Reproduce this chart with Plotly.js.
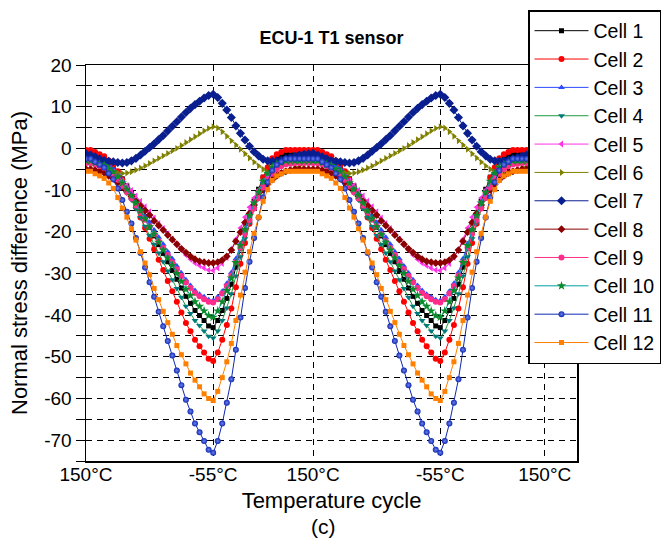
<!DOCTYPE html>
<html>
<head>
<meta charset="utf-8">
<script src="https://cdn.plot.ly/plotly-3.0.1.min.js"></script>
<style>html,body{margin:0;padding:0;background:#fff;}</style>
</head>
<body>
<div id="chart" style="width:665px;height:542px;"></div>
<script>
// sample index along the temperature cycle (time axis)
const sampleIndex = [0,1,2,3,4,5,6,7,8,9,10,11,12,13,14,15,16,17,18,19,20,21,22,23,24,25,26,27,28,29,30,31,32,33,34,35,36,37,38,39,40,41,42,43,44,45,46,47,48,49,50,51,52,53,54,55,56,57,58,59,60,61,62,63,64,65,66,67,68,69,70,71,72,73,74,75,76,77,78,79,80,81,82,83,84,85,86,87,88,89,90,91,92,93,94,95,96,97,98,99,100,101,102,103,104];

const tempTickPositions = [0, 28, 50, 78, 101];
const tempTickLabels = ['150°C', '-55°C', '150°C', '-55°C', '150°C'];

const stressTickValues = [-75,-70,-65,-60,-55,-50,-45,-40,-35,-30,-25,-20,-15,-10,-5,0,5,10,15,20];
const stressTickLabels = ['','-70','','-60','','-50','','-40','','-30','','-20','','-10','','0','','10','','20'];

const cellNames = ['Cell 1','Cell 2','Cell 3','Cell 4','Cell 5','Cell 6','Cell 7','Cell 8','Cell 9','Cell 10','Cell 11','Cell 12'];

const cell1 = [
-1.5,-1.5,-1.9,-2.3,-2.7,-3.6,-4.4,-5.7,-7.3,-9.0,-10.6,-12.7,-14.8,-16.9,-18.9,-21.0,-23.1,-25.2,-27.2,-29.3,-31.4,-33.5,-35.5,-37.2,-38.9,-40.1,-41.3,-42.6,-43.0,
-41.3,-38.9,-36.0,-32.6,-28.5,-23.9,-19.8,-16.0,-12.7,-9.8,-6.9,-4.8,-3.2,-2.3,-1.9,-1.5,-1.5,-1.5,-1.5,-1.5,-1.5,-1.5,
-1.5,-1.9,-2.3,-2.7,-3.6,-4.4,-5.7,-7.3,-9.0,-10.6,-12.7,-14.8,-16.9,-18.9,-21.0,-23.1,-25.2,-27.2,-29.3,-31.4,-33.5,-35.5,-37.2,-38.9,-40.1,-41.3,-42.6,-43.0,
-41.3,-38.9,-36.0,-32.6,-28.5,-23.9,-19.8,-16.0,-12.7,-9.8,-6.9,-4.8,-3.2,-2.3,-1.9,-1.5,-1.5,-1.5,-1.5,-1.5,-1.5,-1.5,
-1.5,-1.5,-1.9,-2.3];

const cell2 = [
-0.4,-0.4,-0.9,-1.4,-1.9,-2.9,-3.9,-5.5,-7.5,-9.5,-11.5,-14.1,-16.6,-19.1,-21.7,-24.2,-26.7,-29.2,-31.8,-34.3,-36.8,-39.4,-41.9,-43.9,-45.9,-47.5,-49.0,-50.5,-51.0,
-49.0,-45.9,-42.4,-38.4,-33.3,-27.7,-22.7,-18.1,-14.1,-10.5,-7.0,-4.5,-2.4,-1.4,-0.9,-0.4,-0.4,-0.4,-0.4,-0.4,-0.4,-0.4,
-0.4,-0.9,-1.4,-1.9,-2.9,-3.9,-5.5,-7.5,-9.5,-11.5,-14.1,-16.6,-19.1,-21.7,-24.2,-26.7,-29.2,-31.8,-34.3,-36.8,-39.4,-41.9,-43.9,-45.9,-47.5,-49.0,-50.5,-51.0,
-49.0,-45.9,-42.4,-38.4,-33.3,-27.7,-22.7,-18.1,-14.1,-10.5,-7.0,-4.5,-2.4,-1.4,-0.9,-0.4,-0.4,-0.4,-0.4,-0.4,-0.4,-0.4,
-0.4,-0.4,-0.9,-1.4];

const cell3 = [
-2.0,-2.0,-2.3,-2.7,-3.2,-4.1,-4.9,-6.1,-7.7,-9.2,-10.8,-12.5,-14.2,-16.0,-17.7,-19.6,-21.3,-23.0,-24.8,-26.5,-28.2,-29.9,-31.5,-32.9,-34.1,-35.0,-35.6,-36.3,-36.5,
-35.6,-34.3,-32.4,-29.8,-26.5,-22.9,-19.4,-16.2,-13.2,-10.6,-8.0,-6.1,-4.6,-3.6,-2.9,-2.3,-2.2,-2.0,-2.0,-2.0,-2.0,-2.0,
-2.0,-2.3,-2.7,-3.2,-4.1,-4.9,-6.1,-7.7,-9.2,-10.8,-12.5,-14.2,-16.0,-17.7,-19.6,-21.3,-23.0,-24.8,-26.5,-28.2,-29.9,-31.5,-32.9,-34.1,-35.0,-35.6,-36.3,-36.5,
-35.6,-34.3,-32.4,-29.8,-26.5,-22.9,-19.4,-16.2,-13.2,-10.6,-8.0,-6.1,-4.6,-3.6,-2.9,-2.3,-2.2,-2.0,-2.0,-2.0,-2.0,-2.0,
-2.0,-2.0,-2.3,-2.7];

const cell4 = [
-3.0,-3.0,-3.4,-3.9,-4.3,-5.1,-6.0,-7.3,-9.0,-10.7,-12.4,-14.5,-16.6,-18.7,-20.9,-23.0,-25.1,-27.2,-29.4,-31.5,-33.6,-35.7,-37.9,-39.6,-41.3,-42.5,-43.8,-45.1,-45.5,
-43.8,-41.3,-38.3,-34.9,-30.6,-26.0,-21.7,-17.9,-14.5,-11.5,-8.5,-6.4,-4.7,-3.9,-3.4,-3.0,-3.0,-3.0,-3.0,-3.0,-3.0,-3.0,
-3.0,-3.4,-3.9,-4.3,-5.1,-6.0,-7.3,-9.0,-10.7,-12.4,-14.5,-16.6,-18.7,-20.9,-23.0,-25.1,-27.2,-29.4,-31.5,-33.6,-35.7,-37.9,-39.6,-41.3,-42.5,-43.8,-45.1,-45.5,
-43.8,-41.3,-38.3,-34.9,-30.6,-26.0,-21.7,-17.9,-14.5,-11.5,-8.5,-6.4,-4.7,-3.9,-3.4,-3.0,-3.0,-3.0,-3.0,-3.0,-3.0,-3.0,
-3.0,-3.0,-3.4,-3.9];

const cell5 = [
-3.5,-3.5,-3.8,-4.0,-4.4,-5.1,-5.7,-6.6,-7.8,-8.9,-10.1,-11.4,-12.7,-14.0,-15.2,-16.7,-18.0,-19.2,-20.5,-21.8,-23.1,-24.4,-25.6,-26.6,-27.5,-28.1,-28.7,-29.2,-29.3,
-28.7,-27.6,-26.2,-24.3,-21.8,-19.1,-16.5,-14.1,-11.9,-10.0,-8.0,-6.6,-5.4,-4.7,-4.2,-3.8,-3.6,-3.5,-3.5,-3.5,-3.5,-3.5,
-3.5,-3.8,-4.0,-4.4,-5.1,-5.7,-6.6,-7.8,-8.9,-10.1,-11.4,-12.7,-14.0,-15.2,-16.7,-18.0,-19.2,-20.5,-21.8,-23.1,-24.4,-25.6,-26.6,-27.5,-28.1,-28.7,-29.2,-29.3,
-28.7,-27.6,-26.2,-24.3,-21.8,-19.1,-16.5,-14.1,-11.9,-10.0,-8.0,-6.6,-5.4,-4.7,-4.2,-3.8,-3.6,-3.5,-3.5,-3.5,-3.5,-3.5,
-3.5,-3.5,-3.8,-4.0];

const cell6 = [
-3.3,-3.6,-4.0,-4.5,-5.0,-5.4,-5.7,-5.9,-6.0,-5.9,-5.6,-5.2,-4.7,-4.2,-3.6,-3.0,-2.4,-1.8,-1.2,-0.6,0.0,0.7,1.4,2.1,2.8,3.5,4.2,4.8,5.2,
4.9,4.0,2.9,1.8,0.8,-0.2,-1.3,-2.3,-3.3,-4.2,-5.0,-5.7,-6.1,-6.2,-6.0,-5.6,-5.1,-4.6,-4.1,-3.7,-3.4,-3.3,
-3.6,-4.0,-4.5,-5.0,-5.4,-5.7,-5.9,-6.0,-5.9,-5.6,-5.2,-4.7,-4.2,-3.6,-3.0,-2.4,-1.8,-1.2,-0.6,0.0,0.7,1.4,2.1,2.8,3.5,4.2,4.8,5.2,
4.9,4.0,2.9,1.8,0.8,-0.2,-1.3,-2.3,-3.3,-4.2,-5.0,-5.7,-6.1,-6.2,-6.0,-5.6,-5.1,-4.6,-4.1,-3.7,-3.4,-3.3,
-3.3,-3.6,-4.0,-4.5];

const cell7 = [
-1.3,-1.6,-2.0,-2.5,-2.9,-3.1,-3.2,-3.4,-3.5,-3.4,-3.0,-2.4,-1.6,-0.7,0.2,1.1,2.1,3.1,4.2,5.3,6.4,7.5,8.6,9.6,10.5,11.3,12.1,12.7,13.0,
12.2,10.8,9.2,7.4,5.4,3.6,2.0,0.5,-0.8,-1.8,-2.6,-3.0,-3.1,-3.0,-2.8,-2.5,-2.2,-1.9,-1.6,-1.4,-1.3,-1.2,
-1.6,-2.0,-2.5,-2.9,-3.1,-3.2,-3.4,-3.5,-3.4,-3.0,-2.4,-1.6,-0.7,0.2,1.1,2.1,3.1,4.2,5.3,6.4,7.5,8.6,9.6,10.5,11.3,12.1,12.7,13.0,
12.2,10.8,9.2,7.4,5.4,3.6,2.0,0.5,-0.8,-1.8,-2.6,-3.0,-3.1,-3.0,-2.8,-2.5,-2.2,-1.9,-1.6,-1.4,-1.3,-1.2,
-1.2,-1.6,-2.0,-2.5];

const cell8 = [
-5.0,-5.0,-5.2,-5.5,-5.9,-6.6,-7.3,-8.2,-9.3,-10.4,-11.5,-12.7,-13.8,-14.9,-16.0,-17.4,-18.5,-19.6,-20.8,-21.9,-23.0,-24.1,-25.0,-25.9,-26.6,-27.1,-27.3,-27.5,-27.5,
-27.3,-26.8,-25.9,-24.4,-22.3,-20.1,-17.8,-15.6,-13.6,-11.8,-10.0,-8.6,-7.5,-6.6,-5.9,-5.5,-5.2,-5.0,-5.0,-5.0,-5.0,-5.0,
-5.0,-5.2,-5.5,-5.9,-6.6,-7.3,-8.2,-9.3,-10.4,-11.5,-12.7,-13.8,-14.9,-16.0,-17.4,-18.5,-19.6,-20.8,-21.9,-23.0,-24.1,-25.0,-25.9,-26.6,-27.1,-27.3,-27.5,-27.5,
-27.3,-26.8,-25.9,-24.4,-22.3,-20.1,-17.8,-15.6,-13.6,-11.8,-10.0,-8.6,-7.5,-6.6,-5.9,-5.5,-5.2,-5.0,-5.0,-5.0,-5.0,-5.0,
-5.0,-5.0,-5.2,-5.5];

const cell9 = [
-3.5,-3.5,-3.8,-4.2,-4.7,-5.5,-6.4,-7.5,-9.0,-10.5,-12.0,-13.7,-15.4,-17.1,-18.7,-20.6,-22.3,-23.9,-25.6,-27.3,-29.0,-30.6,-32.1,-33.5,-34.7,-35.5,-36.2,-36.8,-37.0,
-36.2,-34.8,-33.0,-30.5,-27.3,-23.8,-20.4,-17.2,-14.4,-11.9,-9.4,-7.5,-6.0,-5.0,-4.3,-3.8,-3.7,-3.5,-3.5,-3.5,-3.5,-3.5,
-3.5,-3.8,-4.2,-4.7,-5.5,-6.4,-7.5,-9.0,-10.5,-12.0,-13.7,-15.4,-17.1,-18.7,-20.6,-22.3,-23.9,-25.6,-27.3,-29.0,-30.6,-32.1,-33.5,-34.7,-35.5,-36.2,-36.8,-37.0,
-36.2,-34.8,-33.0,-30.5,-27.3,-23.8,-20.4,-17.2,-14.4,-11.9,-9.4,-7.5,-6.0,-5.0,-4.3,-3.8,-3.7,-3.5,-3.5,-3.5,-3.5,-3.5,
-3.5,-3.5,-3.8,-4.2];

const cell10 = [
-3.0,-3.0,-3.4,-3.8,-4.1,-4.9,-5.6,-6.8,-8.3,-9.8,-11.3,-13.1,-15.0,-16.9,-18.8,-20.6,-22.5,-24.4,-26.3,-28.1,-30.0,-31.9,-33.8,-35.3,-36.8,-37.9,-39.0,-40.1,-40.5,
-39.0,-36.8,-34.1,-31.1,-27.4,-23.3,-19.5,-16.1,-13.1,-10.5,-7.9,-6.0,-4.5,-3.8,-3.4,-3.0,-3.0,-3.0,-3.0,-3.0,-3.0,-3.0,
-3.0,-3.4,-3.8,-4.1,-4.9,-5.6,-6.8,-8.3,-9.8,-11.3,-13.1,-15.0,-16.9,-18.8,-20.6,-22.5,-24.4,-26.3,-28.1,-30.0,-31.9,-33.8,-35.3,-36.8,-37.9,-39.0,-40.1,-40.5,
-39.0,-36.8,-34.1,-31.1,-27.4,-23.3,-19.5,-16.1,-13.1,-10.5,-7.9,-6.0,-4.5,-3.8,-3.4,-3.0,-3.0,-3.0,-3.0,-3.0,-3.0,-3.0,
-3.0,-3.0,-3.4,-3.8];

const cell11 = [
-2.5,-2.5,-3.2,-3.9,-4.6,-6.0,-7.4,-9.6,-12.4,-15.2,-18.0,-21.5,-25.1,-28.6,-32.1,-35.6,-39.2,-42.7,-46.2,-49.7,-53.3,-56.8,-60.3,-63.1,-66.0,-68.1,-70.2,-72.3,-73.0,
-70.2,-66.0,-61.0,-55.4,-48.3,-40.6,-33.5,-27.2,-21.5,-16.6,-11.7,-8.1,-5.3,-3.9,-3.2,-2.5,-2.5,-2.5,-2.5,-2.5,-2.5,-2.5,
-2.5,-3.2,-3.9,-4.6,-6.0,-7.4,-9.6,-12.4,-15.2,-18.0,-21.5,-25.1,-28.6,-32.1,-35.6,-39.2,-42.7,-46.2,-49.7,-53.3,-56.8,-60.3,-63.1,-66.0,-68.1,-70.2,-72.3,-73.0,
-70.2,-66.0,-61.0,-55.4,-48.3,-40.6,-33.5,-27.2,-21.5,-16.6,-11.7,-8.1,-5.3,-3.9,-3.2,-2.5,-2.5,-2.5,-2.5,-2.5,-2.5,-2.5,
-2.5,-2.5,-3.2,-3.9];

const cell12 = [
-5.5,-5.5,-6.1,-6.6,-7.2,-8.3,-9.6,-11.8,-14.3,-16.5,-19.3,-22.0,-24.8,-27.5,-30.3,-33.6,-36.3,-39.1,-41.8,-44.6,-47.3,-49.5,-51.7,-53.9,-55.6,-57.2,-58.9,-60.0,-60.5,
-58.3,-55.0,-51.2,-46.8,-41.3,-35.2,-29.7,-24.8,-20.4,-16.5,-12.7,-9.9,-7.7,-6.6,-6.1,-5.5,-5.5,-5.5,-5.5,-5.5,-5.5,-5.5,
-5.5,-6.1,-6.6,-7.2,-8.3,-9.6,-11.8,-14.3,-16.5,-19.3,-22.0,-24.8,-27.5,-30.3,-33.6,-36.3,-39.1,-41.8,-44.6,-47.3,-49.5,-51.7,-53.9,-55.6,-57.2,-58.9,-60.0,-60.5,
-58.3,-55.0,-51.2,-46.8,-41.3,-35.2,-29.7,-24.8,-20.4,-16.5,-12.7,-9.9,-7.7,-6.6,-6.1,-5.5,-5.5,-5.5,-5.5,-5.5,-5.5,-5.5,
-5.5,-5.5,-6.1,-6.6];

const cellValues = [cell1, cell2, cell3, cell4, cell5, cell6, cell7, cell8, cell9, cell10, cell11, cell12];

// styles (kept separate from data)
const lineColors   = ['#000000','#FF0000','#2B4BFF','#1F9A3F','#FF33E6','#808000','#0A1F8F','#8B0000','#FF2D8A','#00A0A0','#1028B0','#FF8000'];
const markerColors = ['#000000','#FF0000','#2B4BFF','#007B7B','#FF33E6','#808000','#0A1F8F','#8B0000','#FF2D8A','#0A8A2A','#1028B0','#FF8000'];
const markerSymbols = ['square','circle','triangle-up','triangle-down','triangle-left','triangle-right','diamond','diamond','circle','star','circle','square'];
const markerSizes = [5,6,6,6,6,6,7,6,6,7,6,5];

const traces = cellNames.map((name, k) => {
  const marker = {symbol: markerSymbols[k], color: markerColors[k], size: markerSizes[k], line: {width: 0}};
  if (k === 10) marker.gradient = {type: 'radial', color: '#6a80f0'};
  return {
    type: 'scatter', mode: 'lines+markers', name: name,
    x: sampleIndex, y: cellValues[k],
    line: {color: lineColors[k], width: 1},
    marker: marker
  };
});

const gridDash = '6px,5px';
const layout = {
  width: 665, height: 542,
  margin: {l: 86, r: 88, t: 65, b: 81, pad: 0, autoexpand: false},
  paper_bgcolor: '#ffffff', plot_bgcolor: '#ffffff',
  font: {family: 'Liberation Sans, Arial, sans-serif', color: '#000000'},
  title: {text: '<b>ECU-1 T1 sensor</b>', font: {size: 18, color: '#000'}, x: 0.5, xref: 'paper', xanchor: 'center', y: 1 - 38/542, yref: 'container', yanchor: 'middle'},
  xaxis: {
    range: [0, 108.1], tickmode: 'array', tickvals: tempTickPositions, ticktext: tempTickLabels,
    showgrid: true, gridcolor: '#000', gridwidth: 1, griddash: gridDash,
    zeroline: false, showline: true, mirror: true, linecolor: '#000', linewidth: 1.5,
    ticks: '', tickfont: {size: 19}, ticklabelstandoff: -4, automargin: false,
    title: {text: 'Temperature cycle', font: {size: 22}, standoff: 8}
  },
  yaxis: {
    range: [-75, 20], tickmode: 'array', tickvals: stressTickValues, ticktext: stressTickLabels,
    showgrid: true, gridcolor: '#000', gridwidth: 1, griddash: gridDash,
    zeroline: true, zerolinecolor: '#000', zerolinewidth: 1,
    showline: true, mirror: true, linecolor: '#000', linewidth: 1.5,
    ticks: 'outside', ticklen: 9, tickwidth: 1, tickcolor: '#000',
    tickfont: {size: 19}, automargin: false,
    title: {text: 'Normal stress difference (MPa)', font: {size: 22}, standoff: 10}
  },
  legend: {
    x: (528 - 86) / 491, xanchor: 'left', y: (461 - 10) / 396, yanchor: 'top',
    bgcolor: '#ffffff', bordercolor: '#000', borderwidth: 1.5,
    font: {size: 19.5}, itemwidth: 54, tracegroupgap: 0, maxheight: 420
  },
  annotations: [{
    text: '(c)', xref: 'paper', yref: 'paper', x: (323 - 86) / 491, y: -(526 - 461) / 396,
    showarrow: false, xanchor: 'center', yanchor: 'middle', font: {size: 21}
  }],
  showlegend: true
};

Plotly.newPlot('chart', traces, layout, {displayModeBar: false, staticPlot: true});
</script>
</body>
</html>
